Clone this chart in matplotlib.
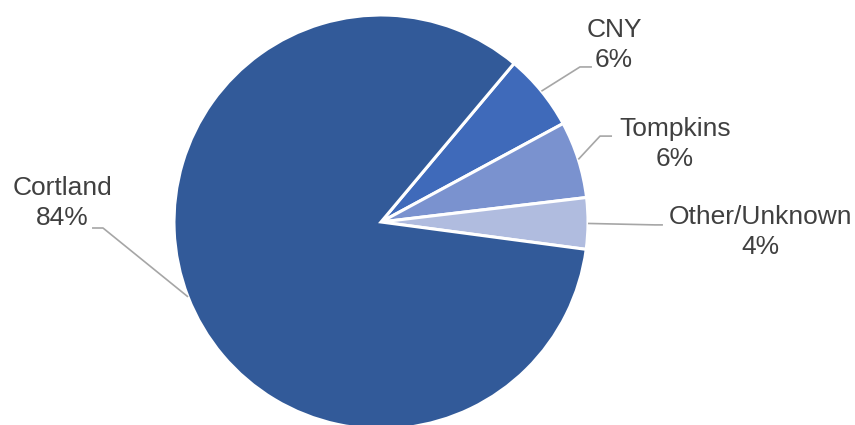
import matplotlib.pyplot as plt
import numpy as np

# Share of participants by county
labels = ["CNY", "Tompkins", "Other/Unknown", "Cortland"]
shares = [6, 6, 4, 84]
colors = ["#3F6ABA", "#7A92CF", "#B0BCDF", "#325A99"]

# Label placement (data units, pie radius = 1): text centre, elbow, line end
label_pos = [(1.126, 0.855), (1.420, 0.377), (1.831, -0.048), (-1.541, 0.092)]
elbow_pos = [(0.961, 0.749), (1.058, 0.415), (1.324, -0.014), (-1.343, -0.029)]
end_pos = [(1.019, 0.749), (1.116, 0.415), (1.362, -0.014), (-1.396, -0.029)]

plt.rcParams["font.family"] = ["Liberation Sans", "DejaVu Sans"]

fig = plt.figure(figsize=(8.55, 4.25), dpi=100)
ax = fig.add_axes([0, 0, 1, 1])

wedges, _ = ax.pie(shares, colors=colors, startangle=50, counterclock=False,
                   radius=1.0,
                   wedgeprops=dict(edgecolor="white", linewidth=2.2))

for w, name, val, lp, el, en in zip(wedges, labels, shares,
                                    label_pos, elbow_pos, end_pos):
    mid = np.deg2rad((w.theta1 + w.theta2) / 2)
    x0, y0 = np.cos(mid), np.sin(mid)
    ax.plot([x0, el[0], en[0]], [y0, el[1], en[1]], color="#A6A6A6",
            lw=1.2, solid_capstyle="butt")
    ax.text(lp[0], lp[1], f"{name}\n{val}%", ha="center", va="center",
            fontsize=19, color="#404040", linespacing=1.3)

# centre of the pie sits at (381, 222) px with radius 207 px
r_px = 207
ax.set_xlim(-381 / r_px, (855 - 381) / r_px)
ax.set_ylim(-(425 - 222) / r_px, 222 / r_px)
ax.set_aspect("auto")
ax.axis("off")

fig.savefig("out.png", dpi=100)
